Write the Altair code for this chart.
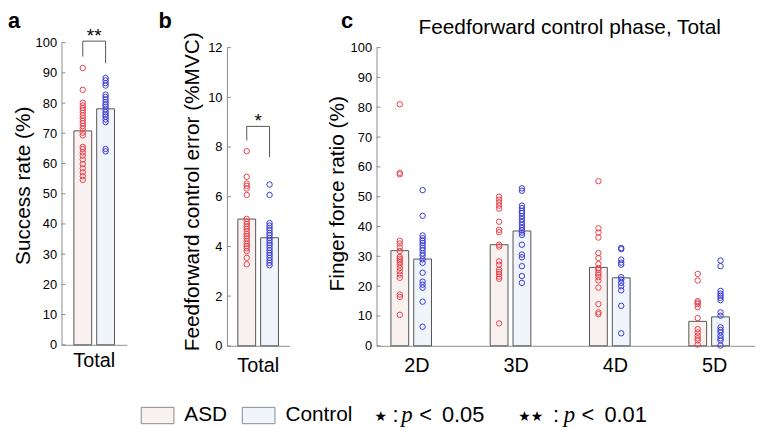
import altair as alt
import pandas as pd

FONT = "Liberation Sans"
GROUPS = ["ASD", "Control"]
FINGERS = ["2D", "3D", "4D", "5D"]
BAR_FILL = ["#f9f1f0", "#eff5fb"]
DOT = ["#e8434b", "#3a3ad6"]

# ---------------- panel a : success rate (%) ----------------
a_asd = [91.6, 84.4, 80.1, 79.2, 78.4, 77.7, 76.8, 75.9, 75.0, 74.1, 73.3, 72.4, 71.5,
         70.2, 69.3, 65.5, 64.8, 63.7, 62.6, 61.3, 59.8, 58.4, 57.1, 55.8, 54.6]
a_ctl = [88.3, 87.5, 86.6, 85.8, 82.8, 82.0, 81.2, 80.3, 79.5, 78.8, 77.9, 77.0, 76.2,
         75.5, 74.6, 73.7, 64.8, 64.0]
a_mean = [70.8, 78.1]
a_bracket = [95.4, 100.5, 93.2]      # left leg end, bracket level, right leg end
a_sig = ["**", 100.2]
a_ticks = list(range(0, 101, 10))

# ---------------- panel b : feedforward control error (%MVC) ----------------
b_asd = [7.83, 6.80, 6.53, 6.44, 6.33, 6.07, 5.11, 5.00, 4.90, 4.80, 4.71, 4.61, 4.50,
         4.41, 4.32, 4.21, 4.10, 4.01, 3.92, 3.81, 3.54, 3.28]
b_ctl = [6.49, 6.07, 4.94, 4.84, 4.74, 4.65, 4.54, 4.45, 4.34, 4.24, 4.14, 4.05, 3.94,
         3.84, 3.74, 3.65, 3.54, 3.44, 3.34, 3.24]
b_mean = [5.10, 4.35]
b_bracket = [8.26, 8.83, 7.59]
b_sig = ["*", 8.80]
b_ticks = list(range(0, 13, 2))

# ---------------- panel c : finger force ratio (%) ----------------
c_asd = {
    "2D": [81.0, 58.0, 57.5, 35.2, 34.3, 33.0, 31.8, 29.8, 29.2, 28.6, 28.0, 27.2, 26.1,
           25.0, 23.9, 22.8, 17.2, 16.4, 10.4],
    "3D": [50.0, 49.0, 48.0, 47.0, 46.0, 41.6, 38.9, 38.1, 33.9, 33.3, 28.3, 27.2, 25.6,
           24.8, 24.0, 23.2, 22.5, 7.5],
    "4D": [55.2, 39.4, 38.0, 36.3, 31.1, 29.4, 27.4, 26.1, 25.5, 24.5, 23.8, 23.0, 21.9,
           19.5, 14.0, 11.2, 10.6],
    "5D": [24.1, 21.9, 15.0, 14.5, 14.0, 13.0, 9.3, 5.6, 4.5, 3.4, 2.5, 1.8, 0.4],
}
c_ctl = {
    "2D": [52.2, 43.6, 37.0, 36.1, 35.2, 34.5, 33.7, 32.8, 32.0, 31.0, 30.2, 29.0, 27.8,
           24.5, 21.5, 20.5, 19.5, 14.8, 6.4],
    "3D": [52.8, 52.0, 47.0, 46.2, 45.2, 44.5, 43.5, 42.5, 41.5, 40.5, 39.5, 38.7, 38.0,
           37.2, 33.9, 30.6, 29.7, 26.7, 23.4, 21.1],
    "4D": [32.8, 32.4, 28.9, 27.9, 27.2, 23.0, 22.2, 21.1, 20.0, 18.6, 13.4, 4.2],
    "5D": [28.6, 26.7, 18.4, 17.5, 16.8, 16.1, 15.3, 11.2, 10.1, 6.2, 5.3, 4.5, 3.4, 2.5,
           1.8, 0.1],
}
c_mean_asd = [31.9, 33.9, 26.3, 8.2]
c_mean_ctl = [29.1, 38.5, 22.8, 9.7]
c_ticks = list(range(0, 101, 10))

C_TITLE = "Feedforward control phase, Total"
NOTES = ["\u2605", ":", "p", "<", "0.05", "\u2605\u2605", ":", "p", "<", "0.01"]


def rows(cat, group, vals):
    return [{"cat": cat, "group": group, "value": v} for v in vals]


LEGEND = alt.Legend(
    orient="none", legendX=80, legendY=359, direction="horizontal", title=None,
    symbolType="M-1,-0.5H1V0.5H-1Z", symbolSize=1089,
    symbolStrokeColor="#8a8a8a", symbolStrokeWidth=1, symbolOpacity=1,
    labelFontSize=21, labelFont=FONT, labelColor="black", labelOffset=10,
    columnPadding=12, labelLimit=0,
)


def y_axis(values, title_pad, title_y):
    return alt.Axis(
        values=values, format="d", ticks=False, labelPadding=5, labelFontSize=13,
        labelOverlap=False, labelFont=FONT, labelColor="black", domainColor="#8c8c8c",
        titleFontSize=21, titleFont=FONT, titleFontWeight="normal", titleColor="black",
        titlePadding=title_pad, titleY=title_y, grid=False,
    )


def panel(cats, pts_by_group, bars, width, height, ydomain, yticks, yrange, ytitle, tpad,
          ty, po, pi, opi, xpad, label, label_x, bracket=None, sig=None):
    x = alt.X("cat:N", sort=cats, title=None,
              scale=alt.Scale(domain=cats, paddingOuter=po, paddingInner=pi),
              axis=alt.Axis(labelAngle=0, ticks=False, domainColor="#8c8c8c",
                            labelFontSize=20, labelFont=FONT, labelColor="black",
                            labelPadding=xpad))
    xo = alt.XOffset("group:N", sort=GROUPS,
                     scale=alt.Scale(domain=GROUPS, paddingInner=opi, paddingOuter=0))
    y = alt.Y("value:Q", title=ytitle,
              scale=alt.Scale(domain=ydomain, range=yrange, nice=False, zero=True),
              axis=y_axis(yticks, tpad, ty))
    bar = alt.Chart(bars).mark_bar(stroke="#555555", strokeWidth=1).encode(
        x=x, xOffset=xo, y=y,
        fill=alt.Fill("group:N", scale=alt.Scale(domain=GROUPS, range=BAR_FILL),
                      legend=LEGEND))
    layers = [bar]
    for g, col in zip(GROUPS, DOT):
        layers.append(alt.Chart(pts_by_group[g]).mark_point(
            shape="circle", filled=False, size=30, strokeWidth=1, opacity=1,
            color=col).encode(x=x, xOffset=xo, y=y))
    # inward-pointing y ticks
    tk = alt.Chart(pd.DataFrame({"value": yticks})).mark_rule(
        color="#8c8c8c", strokeWidth=1).encode(
        x=alt.value(0), x2=alt.value(4), y=y)
    lab = alt.Chart(pd.DataFrame({"t": [label]})).mark_text(
        align="left", baseline="alphabetic", fontSize=22, fontWeight="bold", font=FONT,
        color="black").encode(text="t:N", x=alt.value(label_x), y=alt.value(-15))
    layers += [tk, lab]
    if bracket is not None:
        brdf = pd.DataFrame({"cat": [cats[0]] * 4,
                             "group": ["ASD", "ASD", "Control", "Control"],
                             "value": [bracket[0], bracket[1], bracket[1], bracket[2]],
                             "ord": [0, 1, 2, 3]})
        br = alt.Chart(brdf).mark_line(color="#555555", strokeWidth=1).encode(
            x=x, xOffset=xo, y=y, order="ord:Q")
        sdf = pd.DataFrame({"cat": [cats[0]], "value": [sig[1]], "t": [sig[0]]})
        st = alt.Chart(sdf).mark_text(fontSize=19, font=FONT, baseline="alphabetic",
                                      align="center", color="black").encode(
            x=x, y=y, text="t:N")
        layers += [br, st]
    return layers, (width, height)


# panel a
a_pts = {"ASD": pd.DataFrame(rows("Total", "ASD", a_asd)),
         "Control": pd.DataFrame(rows("Total", "Control", a_ctl))}
a_bars = pd.DataFrame({"cat": ["Total"] * 2, "group": GROUPS, "value": a_mean})
la, sa = panel(["Total"], a_pts, a_bars, 66, 305, [0, 100], a_ticks,
               [305, 0], "Success rate (%)", 2, 144, 0.305, 0, 0.22, 6, "a", -54,
               a_bracket, a_sig)
chart_a = alt.layer(*la).properties(width=sa[0], height=sa[1])

# panel b
b_pts = {"ASD": pd.DataFrame(rows("Total", "ASD", b_asd)),
         "Control": pd.DataFrame(rows("Total", "Control", b_ctl))}
b_bars = pd.DataFrame({"cat": ["Total"] * 2, "group": GROUPS, "value": b_mean})
lb, sb = panel(["Total"], b_pts, b_bars, 63, 306, [0, 12], b_ticks,
               [306, 5], "Feedforward control error (%MVC)", 5, 150, 0.268, 0, 0.22, 10,
               "b", -69, b_bracket, b_sig)
chart_b = alt.layer(*lb).properties(width=sb[0], height=sb[1])

# panel c
c_asd_rows, c_ctl_rows = [], []
for f in FINGERS:
    c_asd_rows += rows(f, "ASD", c_asd[f])
    c_ctl_rows += rows(f, "Control", c_ctl[f])
c_pts = {"ASD": pd.DataFrame(c_asd_rows), "Control": pd.DataFrame(c_ctl_rows)}
c_bars = pd.DataFrame({"cat": FINGERS * 2, "group": ["ASD"] * 4 + ["Control"] * 4,
                       "value": c_mean_asd + c_mean_ctl})
C_W = 382
lc, sc = panel(FINGERS, c_pts, c_bars, C_W, 306, [0, 100], c_ticks,
               [306, 5], "Finger force ratio (%)", 3, 152, 0.1445, 0.478, 0.158, 10,
               "c", -36)

# panel title as text
lc.append(alt.Chart(pd.DataFrame({"t": [C_TITLE]})).mark_text(
    align="center", baseline="alphabetic", font=FONT, fontSize=21, color="black").encode(
    text="t:N", x=alt.value(C_W / 2 + 4), y=alt.value(-9)))

# significance notes under the chart
note_x = [-2, 16, 25, 43, 66, 143, 178, 189, 207, 230]
for i, txt in enumerate(NOTES):
    dy = 0
    if txt == "p":
        fnt, sty, fs = "Liberation Serif", "italic", 23
    elif "\u2605" in txt:
        fnt, sty, fs = "DejaVu Sans", "normal", 14
        dy = -1
    else:
        fnt, sty, fs = FONT, "normal", 22
    lc.append(alt.Chart(pd.DataFrame({"t": [txt]})).mark_text(
        align="left", baseline="alphabetic", font=fnt, fontStyle=sty, fontSize=fs,
        color="black").encode(text="t:N", x=alt.value(note_x[i]), y=alt.value(383 + dy)))

chart_c = alt.layer(*lc).properties(width=sc[0], height=sc[1])

left = alt.hconcat(chart_a, chart_b, spacing=32)
chart = alt.hconcat(left, chart_c, spacing=37).properties(padding=0).configure_view(
    stroke=None)

chart.save("out.html", embed_options={"renderer": "svg", "actions": False})
